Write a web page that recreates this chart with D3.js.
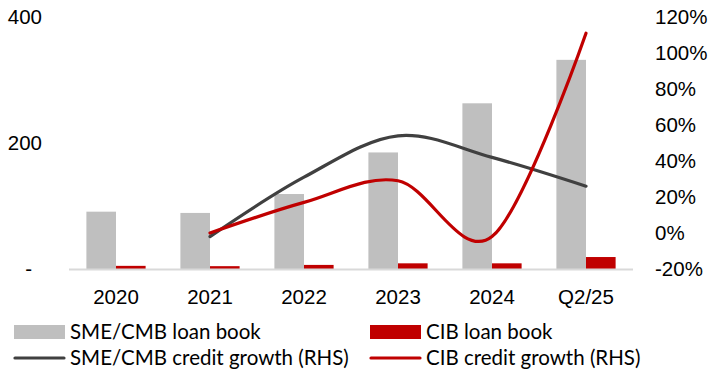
<!DOCTYPE html>
<html>
<head>
<meta charset="utf-8">
<script src="https://cdn.jsdelivr.net/npm/d3@7"></script>
<style>
  html, body { margin: 0; padding: 0; background: #fff; }
  svg { display: block; font-family: Lato, "Liberation Sans", sans-serif; }
</style>
</head>
<body>
<svg id="chart" width="709" height="374"></svg>
<script>
// Loan books (left axis) and credit growth in % (right axis)
const categories = ["2020", "2021", "2022", "2023", "2024", "Q2/25"];
const smeLoanBook = [91, 89, 119, 185, 263, 332];
const cibLoanBook = [5, 4.5, 6.5, 9, 9, 19];
const smeGrowth = [null, -2, 31, 54, 42, 26];
const cibGrowth = [null, 0, 17, 29, -2, 111];
const leftTicks = [0, 200, 400];
const rightTicks = [-20, 0, 20, 40, 60, 80, 100, 120];

const colors = { sme: "#BFBFBF", cib: "#C00000", smeLine: "#404040", cibLine: "#C00000" };
const fontSize = 20.5;

const svg = d3.select("#chart");
const plot = { left: 69, right: 633, top: 17, bottom: 269 };

const x = d3.scaleBand().domain(categories)
  .range([plot.left, plot.right]).paddingInner(0.37).paddingOuter(0.185);
const xSub = d3.scaleBand().domain(["sme", "cib"]).range([0, x.bandwidth()]);
const yL = d3.scaleLinear().domain([0, 400]).range([plot.bottom, plot.top]);
const yR = d3.scaleLinear().domain([-20, 120]).range([plot.bottom, plot.top]);

// Bars
const g = svg.append("g");
g.selectAll("rect.sme").data(smeLoanBook).join("rect")
  .attr("class", "sme")
  .attr("x", (d, i) => x(categories[i]) + xSub("sme"))
  .attr("width", xSub.bandwidth())
  .attr("y", d => yL(d)).attr("height", d => yL(0) - yL(d))
  .attr("fill", colors.sme);
g.selectAll("rect.cib").data(cibLoanBook).join("rect")
  .attr("class", "cib")
  .attr("x", (d, i) => x(categories[i]) + xSub("cib"))
  .attr("width", xSub.bandwidth())
  .attr("y", d => yL(d)).attr("height", d => yL(0) - yL(d))
  .attr("fill", colors.cib);

// Category baseline
g.append("line")
  .attr("x1", plot.left).attr("x2", plot.right)
  .attr("y1", yL(0) + 0.5).attr("y2", yL(0) + 0.5)
  .attr("stroke", "#D9D9D9").attr("stroke-width", 2);

// Smoothed growth lines
const cx = c => x(c) + x.bandwidth() / 2;
const line = d3.line()
  .defined(d => d.v != null)
  .x(d => cx(d.c)).y(d => yR(d.v))
  .curve(d3.curveCardinal.tension(0));
function drawLine(values, color) {
  const pts = values.map((v, i) => ({ c: categories[i], v })).filter(d => d.v != null);
  g.append("path").datum(pts)
    .attr("d", line).attr("fill", "none")
    .attr("stroke", color).attr("stroke-width", 3.2)
    .attr("stroke-linecap", "round").attr("stroke-linejoin", "round");
}
drawLine(smeGrowth, colors.smeLine);
drawLine(cibGrowth, colors.cibLine);

// Axes
const axisL = svg.append("g").attr("transform", `translate(${plot.left},0)`)
  .call(d3.axisLeft(yL).tickValues(leftTicks).tickSize(0).tickPadding(27)
    .tickFormat(d => d === 0 ? "-" : d));
axisL.select(".domain").remove();
axisL.selectAll("text").attr("font-size", fontSize).attr("font-family", null).attr("fill", "#000");
axisL.selectAll(".tick").filter(d => d === 0).select("text").attr("dx", -10);

const axisR = svg.append("g").attr("transform", `translate(${plot.right},0)`)
  .call(d3.axisRight(yR).tickValues(rightTicks).tickSize(0).tickPadding(22)
    .tickFormat(d => d + "%"));
axisR.select(".domain").remove();
axisR.selectAll("text").attr("font-size", fontSize).attr("font-family", null).attr("fill", "#000");

const axisB = svg.append("g").attr("transform", `translate(0,${plot.bottom})`)
  .call(d3.axisBottom(x).tickSize(0).tickPadding(20));
axisB.select(".domain").remove();
axisB.selectAll("text").attr("font-size", fontSize).attr("font-family", null).attr("fill", "#000");

// Legend
const legendItems = [
  { label: "SME/CMB loan book", type: "rect", color: colors.sme, x: 14, y: 332 },
  { label: "CIB loan book", type: "rect", color: colors.cib, x: 370, y: 332 },
  { label: "SME/CMB credit growth (RHS)", type: "line", color: colors.smeLine, x: 14, y: 358 },
  { label: "CIB credit growth (RHS)", type: "line", color: colors.cibLine, x: 370, y: 358 }
];
const lg = svg.append("g").selectAll("g").data(legendItems).join("g")
  .attr("transform", d => `translate(${d.x},${d.y})`);
lg.filter(d => d.type === "rect").append("rect")
  .attr("x", 0).attr("y", -7).attr("width", 51).attr("height", 14)
  .attr("fill", d => d.color);
lg.filter(d => d.type === "line").append("line")
  .attr("x1", 1).attr("x2", 50).attr("y1", 0).attr("y2", 0)
  .attr("stroke", d => d.color).attr("stroke-width", 3.2).attr("stroke-linecap", "round");
lg.append("text")
  .attr("x", 56).attr("y", 0).attr("dy", "0.35em")
  .attr("font-size", fontSize).attr("fill", "#000")
  .text(d => d.label);
</script>
</body>
</html>
